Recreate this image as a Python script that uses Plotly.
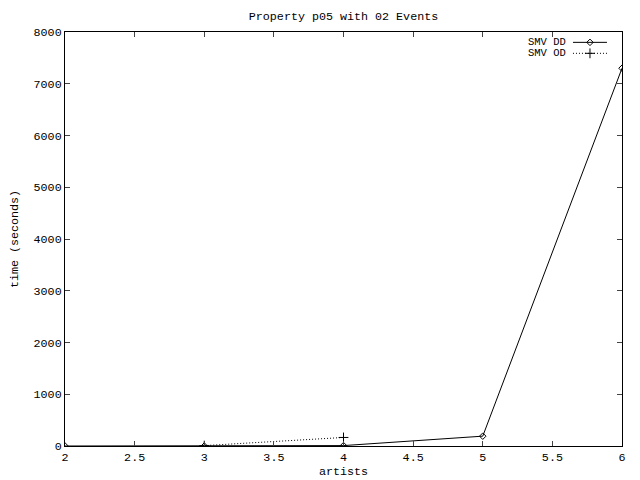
import plotly.graph_objects as go

dd_x = [2, 3, 4, 5, 6]
dd_y = [0, 0, 8, 190, 7300]
od_x = [3, 4]
od_y = [8, 165]

x_ticks = [2, 2.5, 3, 3.5, 4, 4.5, 5, 5.5, 6]
y_ticks = [0, 1000, 2000, 3000, 4000, 5000, 6000, 7000, 8000]

FONT = "Liberation Mono, DejaVu Sans Mono, monospace"
FS = 11.7
DOT = "1px,2px"

# page body has an 8px margin, so the figure is sized to fit inside 640x480
W, H = 632, 472

fig = go.Figure()
fig.add_trace(go.Scatter(x=dd_x, y=dd_y, mode="lines+markers", name="SMV DD",
                         line=dict(color="black", width=1),
                         marker=dict(symbol="diamond-open", size=5, color="black", line=dict(width=1))))
fig.add_trace(go.Scatter(x=od_x, y=od_y, mode="lines+markers", name="SMV OD",
                         line=dict(color="black", width=1, dash=DOT),
                         marker=dict(symbol="cross-thin-open", size=7, color="black", line=dict(width=1, color="black"))))

# legend drawn gnuplot-style: text then sample
legend_items = [("SMV DD", "solid", "diamond-open", 5), ("SMV OD", DOT, "cross-thin-open", 7)]
for i, (name, dash, sym, ms) in enumerate(legend_items):
    yp = 0.975 - i * 0.0265
    fig.add_annotation(x=0.903, y=yp, xref="paper", yref="paper", text=name, showarrow=False,
                       xanchor="right", yanchor="middle", font=dict(family=FONT, size=10.5, color="black"))
    fig.add_shape(type="line", xref="paper", yref="paper", x0=0.912, x1=0.973, y0=yp, y1=yp,
                  line=dict(color="black", width=1, dash=dash))
    fig.add_trace(go.Scatter(x=[0.9425], y=[yp], xaxis="x2", yaxis="y2", mode="markers", showlegend=False,
                             marker=dict(symbol=sym, size=ms, color="black",
                                         line=dict(width=1, color="black")), hoverinfo="skip"))

fig.update_layout(
    width=W, height=H,
    margin=dict(l=57, r=18, t=24, b=34, autoexpand=False),
    paper_bgcolor="white", plot_bgcolor="white",
    showlegend=False,
    title=dict(text="Property p05 with 02 Events", xref="paper", x=0.5, xanchor="center",
               y=1 - 8 / H, yanchor="middle",
               font=dict(family=FONT, size=FS, color="black")),
    font=dict(family=FONT, size=FS, color="black"),
    xaxis=dict(range=[2, 6], tickvals=x_ticks, ticktext=[str(v) for v in x_ticks],
               ticks="inside", ticklen=5, mirror="ticks", showline=True, linecolor="black", linewidth=1,
               showgrid=False, zeroline=False, automargin=False,
               title=dict(text="artists", standoff=2, font=dict(family=FONT, size=FS))),
    yaxis=dict(range=[0, 8000], tickvals=y_ticks, ticks="inside", ticklen=5, mirror="ticks",
               showline=True, linecolor="black", linewidth=1, showgrid=False, zeroline=False,
               automargin=False,
               title=dict(text="time (seconds)", standoff=12, font=dict(family=FONT, size=FS))),
    xaxis2=dict(range=[0, 1], domain=[0, 1], overlaying="x", visible=False, anchor="y2"),
    yaxis2=dict(range=[0, 1], domain=[0, 1], overlaying="y", visible=False, anchor="x2"),
)

fig.write_html("out.html")
